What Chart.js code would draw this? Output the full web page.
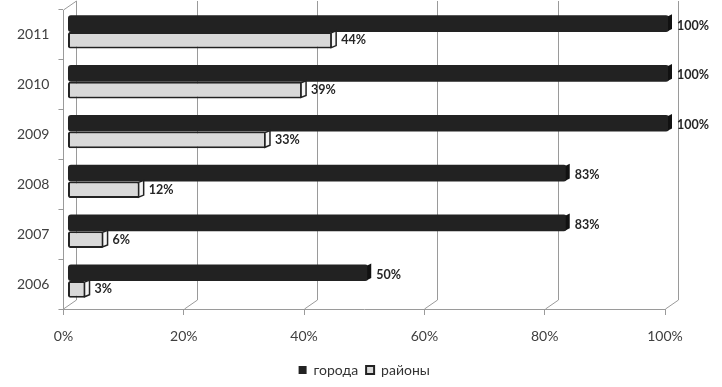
<!DOCTYPE html>
<html lang="ru">
<head>
<meta charset="UTF-8">
<title>города / районы</title>
<script src="https://cdn.jsdelivr.net/npm/chart.js"></script>
<style>
    html, body { margin: 0; padding: 0; background: #fff; }
    canvas { display: block; }
</style>
</head>
<body>
<canvas id="chart" width="722" height="387"></canvas>
<script>
    const years = ['2011', '2010', '2009', '2008', '2007', '2006'];
    const cities = [100, 100, 100, 83, 83, 50];     // города
    const districts = [44, 39, 33, 12, 6, 3];       // районы
    const xTicks = [0, 20, 40, 60, 80, 100];

    // depth of the fake 3D box, and how far the bars sit inside it
    const WALL_DX = 13, WALL_DY = -9;
    const BAR_DX = 4, BAR_DY = -3;

    Chart.defaults.font.family = 'Lato, "Open Sans", sans-serif';

    const box3d = {
        id: 'box3d',
        beforeDatasetsDraw(chart) {
            const { ctx, chartArea: a, scales: { x } } = chart;
            ctx.save();
            ctx.strokeStyle = '#9a9a9a';
            ctx.lineWidth = 1;
            xTicks.forEach(v => {
                const px = Math.round(x.getPixelForValue(v)) + 0.5;
                ctx.beginPath();
                ctx.moveTo(px + WALL_DX, a.top + WALL_DY);
                ctx.lineTo(px + WALL_DX, a.bottom + WALL_DY);
                ctx.lineTo(px, a.bottom);
                ctx.stroke();
            });
            // left wall top edge
            const x0 = Math.round(x.getPixelForValue(0)) + 0.5;
            ctx.beginPath();
            ctx.moveTo(x0, a.top);
            ctx.lineTo(x0 + WALL_DX, a.top + WALL_DY);
            ctx.stroke();
            ctx.restore();

            ctx.save();
            ctx.translate(BAR_DX, BAR_DY);
        },
        afterDatasetsDraw(chart) {
            const { ctx } = chart;
            ctx.restore();

            ctx.save();
            chart.data.datasets.forEach((ds, i) => {
                chart.getDatasetMeta(i).data.forEach((bar, j) => {
                    const { x, y, height } = bar.getProps(['x', 'y', 'height'], true);
                    const xe = x + BAR_DX;
                    const top = y - height / 2 + BAR_DY;
                    const bottom = y + height / 2 + BAR_DY;
                    const cap = i === 0 ? 3 : 4;

                    // end face of the bar
                    ctx.beginPath();
                    ctx.moveTo(xe - 1, top + 1);
                    ctx.lineTo(xe + cap, top - 1);
                    ctx.lineTo(xe + cap, bottom - 3);
                    ctx.lineTo(xe - 1, bottom - 1);
                    ctx.closePath();
                    ctx.fillStyle = i === 0 ? '#111' : '#f4f4f4';
                    ctx.fill();
                    if (i === 1) {
                        ctx.strokeStyle = '#222';
                        ctx.lineWidth = 1.5;
                        ctx.stroke();
                    }

                    ctx.fillStyle = '#262626';
                    ctx.font = 'bold 12.5px Lato, "Open Sans", sans-serif';
                    ctx.textAlign = 'left';
                    ctx.textBaseline = 'middle';
                    ctx.fillText(ds.data[j] + '%', xe + cap + 5, (top + bottom) / 2 + (i === 0 ? 2 : 0));
                });
            });
            ctx.restore();
        }
    };

    new Chart(document.getElementById('chart'), {
        type: 'bar',
        data: {
            labels: years,
            datasets: [
                {
                    label: 'города',
                    data: cities,
                    backgroundColor: '#222222',
                    borderWidth: 0,
                    borderRadius: 3,
                    borderSkipped: false,
                    categoryPercentage: 0.67,
                    barPercentage: 1
                },
                {
                    label: 'районы',
                    data: districts,
                    backgroundColor: '#d9d9d9',
                    borderColor: '#222222',
                    borderWidth: 2,
                    borderRadius: 2,
                    borderSkipped: false,
                    categoryPercentage: 0.67,
                    barPercentage: 1
                }
            ]
        },
        options: {
            indexAxis: 'y',
            responsive: false,
            animation: false,
            devicePixelRatio: 1,
            layout: { padding: { left: 8, right: 57, top: 10, bottom: 0 } },
            scales: {
                x: {
                    min: 0,
                    max: 100,
                    afterBuildTicks: axis => { axis.ticks = xTicks.map(v => ({ value: v })); },
                    afterFit: axis => { axis.height = 46; },
                    ticks: {
                        callback: v => v + '%',
                        color: '#404040',
                        font: { size: 14 },
                        padding: 13,
                        maxRotation: 0
                    },
                    grid: { drawOnChartArea: false, tickLength: 6, color: '#9a9a9a' },
                    border: { color: '#9a9a9a' }
                },
                y: {
                    afterFit: axis => { axis.paddingTop = 0; axis.paddingBottom = 0; },
                    ticks: { color: '#404040', font: { size: 14 }, padding: 9 },
                    grid: { drawOnChartArea: false, tickLength: 5, color: '#9a9a9a', offset: true },
                    border: { color: '#9a9a9a' }
                }
            },
            plugins: {
                legend: {
                    position: 'bottom',
                    fullSize: false,
                    labels: {
                        boxWidth: 8,
                        boxHeight: 8,
                        color: '#333333',
                        font: { size: 14 },
                        padding: 8
                    }
                },
                tooltip: { enabled: false }
            }
        },
        plugins: [box3d]
    });
</script>
</body>
</html>
